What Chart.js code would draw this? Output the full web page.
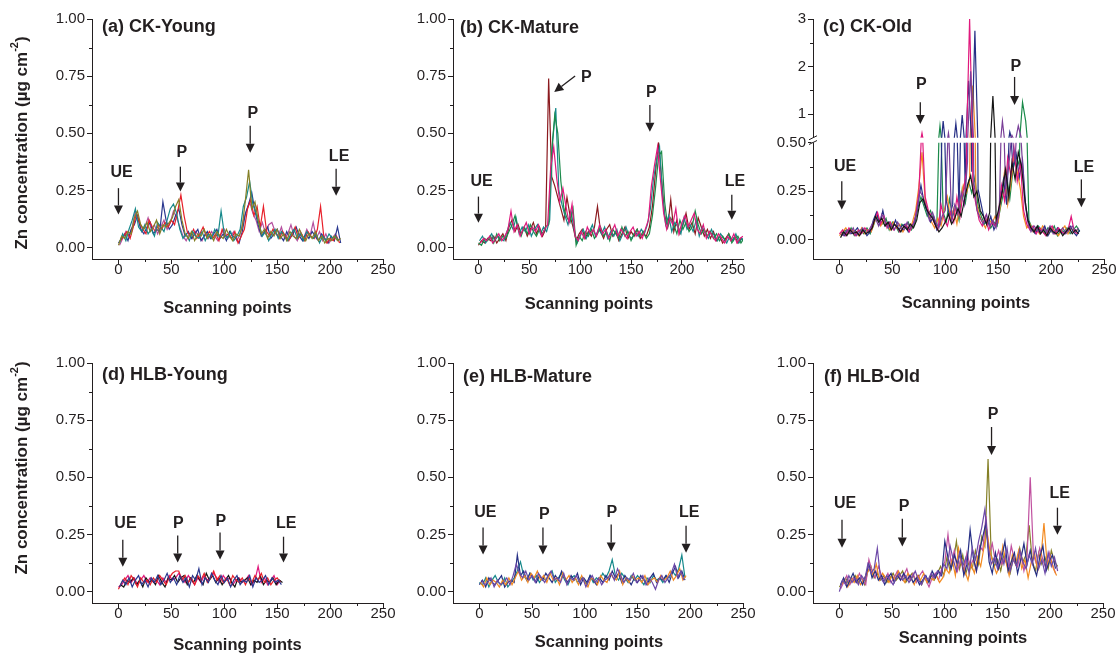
<!DOCTYPE html>
<html>
<head>
<meta charset="utf-8">
<script src="https://cdn.jsdelivr.net/npm/chart.js@4.4.1/dist/chart.umd.min.js"></script>
<style>
  body { margin: 0; background: #fff; width: 1119px; height: 653px; position: relative; overflow: hidden; }
  canvas { position: absolute; }
</style>
</head>
<body>
<canvas id="js--chart--a" width="400" height="320" style="left:0;top:0"></canvas>
<canvas id="js--chart--b" width="380" height="320" style="left:380px;top:0"></canvas>
<canvas id="js--chart--c" width="359" height="320" style="left:760px;top:0"></canvas>
<canvas id="js--chart--d" width="400" height="333" style="left:0;top:320px"></canvas>
<canvas id="js--chart--e" width="380" height="333" style="left:380px;top:320px"></canvas>
<canvas id="js--chart--f" width="359" height="333" style="left:760px;top:320px"></canvas>
<script>
// scanning points are sampled every 3rd point
const scanStep = 3;
const xTicks = [0, 50, 100, 150, 200, 250];
const yTicks = [0, 0.25, 0.5, 0.75, 1];
const yTicksLowOld = [0, 0.25, 0.5];
const yTicksHighOld = [1, 2, 3];
const xTitle = "Scanning points";

//(a) CK-Young
const ckYoungOlive = [0.01,0.05,0.04,0.07,0.06,0.13,0.16,0.10,0.08,0.11,
    0.07,0.09,0.12,0.06,0.10,0.09,0.11,0.13,0.18,0.21,
    0.12,0.06,0.04,0.07,0.03,0.06,0.05,0.08,0.04,0.06,
    0.03,0.07,0.05,0.04,0.08,0.05,0.03,0.06,0.05,0.09,
    0.21,0.34,0.17,0.20,0.12,0.06,0.08,0.04,0.07,0.05,
    0.08,0.04,0.06,0.03,0.07,0.05,0.04,0.08,0.05,0.03,
    0.06,0.04,0.07,0.03,0.05,0.02,0.04,0.03,0.05,0.03,0.04];
const ckYoungTeal = [0.02,0.06,0.03,0.08,0.12,0.17,0.09,0.07,0.10,0.06,
    0.08,0.05,0.11,0.09,0.07,0.12,0.17,0.19,0.15,0.08,
    0.04,0.06,0.03,0.07,0.05,0.04,0.07,0.03,0.06,0.04,
    0.08,0.05,0.16,0.06,0.04,0.07,0.03,0.05,0.08,0.18,
    0.22,0.29,0.19,0.15,0.10,0.05,0.07,0.03,0.06,0.08,
    0.04,0.07,0.05,0.03,0.06,0.08,0.04,0.06,0.03,0.07,
    0.05,0.04,0.06,0.02,0.05,0.03,0.06,0.04,0.05,0.03];
const ckYoungRed = [0.03,0.05,0.07,0.04,0.09,0.15,0.11,0.08,0.06,0.12,
    0.09,0.07,0.10,0.08,0.11,0.09,0.12,0.10,0.16,0.23,
    0.14,0.07,0.05,0.08,0.04,0.06,0.09,0.05,0.07,0.04,
    0.06,0.03,0.08,0.05,0.06,0.04,0.07,0.02,0.05,0.08,
    0.17,0.21,0.14,0.18,0.09,0.18,0.07,0.05,0.08,0.06,
    0.04,0.07,0.05,0.03,0.06,0.09,0.04,0.06,0.03,0.07,
    0.05,0.04,0.08,0.18,0.05,0.02,0.04,0.03,0.05,0.02];
const ckYoungBlue = [0.02,0.04,0.06,0.03,0.08,0.10,0.14,0.08,0.06,0.09,
    0.11,0.06,0.08,0.07,0.20,0.12,0.08,0.10,0.14,0.17,
    0.10,0.05,0.07,0.04,0.06,0.08,0.03,0.05,0.07,0.04,
    0.06,0.08,0.04,0.06,0.03,0.07,0.05,0.04,0.02,0.07,
    0.15,0.19,0.24,0.16,0.10,0.05,0.07,0.09,0.04,0.06,
    0.08,0.05,0.03,0.07,0.04,0.06,0.09,0.05,0.03,0.06,
    0.04,0.07,0.05,0.03,0.06,0.04,0.02,0.05,0.03,0.09,0.02];
const ckYoungMagenta = [0.01,0.04,0.07,0.05,0.09,0.16,0.12,0.07,0.09,0.13,
    0.08,0.10,0.06,0.09,0.12,0.08,0.11,0.16,0.13,0.09,
    0.05,0.03,0.06,0.04,0.07,0.05,0.03,0.06,0.04,0.07,
    0.05,0.03,0.06,0.08,0.04,0.05,0.07,0.03,0.06,0.12,
    0.16,0.20,0.15,0.12,0.07,0.11,0.06,0.10,0.11,0.07,
    0.05,0.09,0.04,0.06,0.10,0.05,0.03,0.07,0.04,0.08,
    0.05,0.11,0.04,0.07,0.03,0.06,0.02,0.04,0.06,0.03];

//(b) CK-Mature
const ckMaturePink = [0.02,0.04,0.03,0.05,0.02,0.04,0.06,0.03,0.05,0.08,
    0.16,0.07,0.10,0.05,0.08,0.11,0.06,0.09,0.07,0.10,
    0.05,0.08,0.10,0.35,0.44,0.30,0.20,0.26,0.18,0.11,
    0.19,0.05,0.03,0.07,0.04,0.09,0.06,0.08,0.05,0.10,
    0.06,0.08,0.04,0.07,0.10,0.05,0.08,0.06,0.04,0.07,
    0.09,0.05,0.07,0.04,0.08,0.12,0.27,0.36,0.44,0.29,
    0.15,0.08,0.13,0.10,0.17,0.06,0.11,0.14,0.09,0.12,
    0.15,0.08,0.06,0.10,0.04,0.07,0.05,0.03,0.06,0.04,
    0.02,0.05,0.03,0.06,0.02,0.04,0.05,0.03];
const ckMatureGreen = [0.02,0.01,0.04,0.03,0.05,0.02,0.06,0.03,0.05,0.04,
    0.07,0.10,0.14,0.08,0.05,0.09,0.06,0.10,0.07,0.05,
    0.08,0.06,0.09,0.10,0.42,0.58,0.50,0.29,0.17,0.13,
    0.11,0.17,0.01,0.05,0.03,0.07,0.05,0.08,0.04,0.06,
    0.09,0.05,0.07,0.03,0.08,0.06,0.04,0.09,0.05,0.07,
    0.03,0.06,0.08,0.05,0.07,0.04,0.06,0.14,0.26,0.40,
    0.42,0.20,0.09,0.13,0.10,0.06,0.12,0.08,0.11,0.07,
    0.09,0.16,0.10,0.06,0.08,0.05,0.07,0.04,0.06,0.03,
    0.05,0.03,0.06,0.02,0.04,0.05,0.02,0.04,0.03];
const ckMatureTeal = [0.03,0.05,0.02,0.04,0.06,0.03,0.05,0.04,0.03,0.07,
    0.11,0.08,0.13,0.06,0.09,0.07,0.10,0.05,0.08,0.10,
    0.06,0.09,0.07,0.12,0.47,0.61,0.25,0.19,0.14,0.10,
    0.16,0.08,0.02,0.05,0.08,0.04,0.07,0.10,0.05,0.08,
    0.06,0.09,0.04,0.07,0.05,0.08,0.03,0.06,0.09,0.05,
    0.04,0.07,0.05,0.08,0.06,0.10,0.17,0.30,0.38,0.44,
    0.22,0.10,0.14,0.07,0.11,0.09,0.06,0.13,0.08,0.10,
    0.07,0.12,0.05,0.09,0.06,0.04,0.08,0.05,0.03,0.06,
    0.04,0.02,0.05,0.03,0.06,0.02,0.04,0.03,0.04];
const ckMatureMaroon = [0.01,0.03,0.02,0.04,0.03,0.05,0.02,0.04,0.06,0.03,
    0.09,0.12,0.07,0.10,0.06,0.09,0.05,0.08,0.11,0.06,
    0.09,0.05,0.08,0.74,0.31,0.27,0.22,0.17,0.12,0.22,
    0.14,0.09,0.03,0.06,0.08,0.04,0.07,0.05,0.09,0.18,
    0.07,0.04,0.08,0.10,0.05,0.07,0.03,0.06,0.09,0.04,
    0.07,0.05,0.08,0.04,0.06,0.05,0.09,0.18,0.33,0.46,
    0.30,0.14,0.09,0.21,0.07,0.12,0.06,0.10,0.15,0.08,
    0.11,0.06,0.13,0.09,0.05,0.08,0.04,0.07,0.03,0.05,
    0.02,0.04,0.06,0.03,0.05,0.02,0.04,0.03,0.05];

//(c) CK-Old
const ckOldBlack = [0.01,0.04,0.02,0.05,0.03,0.04,0.02,0.05,0.03,0.04,
    0.06,0.12,0.09,0.11,0.07,0.09,0.05,0.08,0.06,0.04,
    0.07,0.05,0.08,0.06,0.10,0.19,0.21,0.16,0.13,0.11,
    0.07,0.04,0.06,0.09,0.13,0.08,0.11,0.16,0.12,0.20,
    0.28,0.33,0.22,0.25,0.15,0.12,0.08,0.14,1.38,0.10,
    0.17,0.25,0.36,0.22,0.40,0.31,0.45,0.38,0.22,0.10,
    0.06,0.04,0.07,0.03,0.05,0.02,0.06,0.04,0.03,0.05,
    0.02,0.04,0.06,0.03,0.05,0.03];
const ckOldPurple = [0.03,0.02,0.05,0.03,0.06,0.02,0.04,0.06,0.03,0.05,
    0.08,0.11,0.07,0.13,0.10,0.06,0.08,0.05,0.09,0.06,
    0.05,0.09,0.06,0.08,0.14,0.25,0.22,0.17,0.10,0.14,
    0.09,0.06,0.12,0.15,0.60,0.10,0.18,0.13,0.24,0.18,
    0.40,1.90,0.30,0.15,0.11,0.08,0.13,0.07,0.10,0.06,
    0.14,0.85,0.26,0.38,0.55,0.40,0.75,0.48,0.20,0.09,
    0.04,0.07,0.05,0.03,0.06,0.04,0.07,0.03,0.05,0.04,
    0.06,0.03,0.05,0.07,0.04,0.06];
const ckOldPink = [0.03,0.05,0.02,0.06,0.04,0.02,0.05,0.03,0.06,0.04,
    0.05,0.10,0.14,0.08,0.12,0.06,0.09,0.05,0.07,0.04,
    0.06,0.08,0.04,0.07,0.12,0.24,0.60,0.22,0.15,0.12,
    0.08,0.05,0.18,0.10,0.07,0.14,0.09,0.22,0.12,0.25,
    0.35,3.00,0.28,0.18,0.10,0.07,0.12,0.05,0.09,0.07,
    0.12,0.28,0.20,0.42,0.33,0.47,0.30,0.40,0.15,0.08,
    0.05,0.07,0.03,0.06,0.04,0.02,0.05,0.07,0.03,0.06,
    0.04,0.03,0.05,0.12,0.04,0.03];
const ckOldNavy = [0.04,0.02,0.05,0.03,0.04,0.06,0.03,0.05,0.02,0.04,
    0.10,0.14,0.08,0.15,0.07,0.09,0.06,0.10,0.05,0.07,
    0.08,0.04,0.07,0.09,0.18,0.28,0.19,0.14,0.09,0.12,
    0.05,0.08,0.85,0.20,0.12,0.18,0.80,0.15,0.98,0.22,
    1.70,0.35,2.75,0.26,0.18,0.10,0.07,0.12,0.05,0.09,
    0.20,0.31,0.18,0.62,0.37,0.44,0.32,0.41,0.17,0.08,
    0.05,0.03,0.06,0.04,0.07,0.02,0.05,0.03,0.06,0.04,
    0.03,0.05,0.07,0.04,0.02,0.05];
const ckOldOrange = [0.02,0.04,0.06,0.03,0.05,0.04,0.02,0.06,0.03,0.05,
    0.04,0.09,0.13,0.07,0.10,0.08,0.05,0.09,0.06,0.08,
    0.04,0.07,0.05,0.09,0.15,0.27,0.45,0.20,0.13,0.09,
    0.06,0.11,0.07,0.15,0.22,0.10,0.16,0.08,0.19,0.28,
    0.24,0.30,1.60,0.20,0.13,0.09,0.06,0.11,0.08,0.12,
    0.09,0.22,0.35,0.18,0.29,0.44,0.35,0.26,0.12,0.06,
    0.08,0.04,0.06,0.03,0.07,0.05,0.03,0.06,0.04,0.02,
    0.05,0.07,0.03,0.06,0.04,0.05];
const ckOldGreen = [0.02,0.05,0.03,0.06,0.02,0.04,0.05,0.03,0.06,0.03,
    0.07,0.12,0.10,0.08,0.11,0.05,0.09,0.07,0.04,0.08,
    0.06,0.09,0.05,0.08,0.16,0.22,0.17,0.12,0.15,0.10,
    0.07,0.75,0.14,0.09,0.21,0.12,0.17,0.10,0.26,0.19,
    0.30,0.24,0.32,0.17,0.12,0.08,0.11,0.06,0.09,0.07,
    0.16,0.24,0.33,0.21,0.36,0.43,0.38,1.25,0.85,0.10,
    0.06,0.04,0.07,0.05,0.03,0.06,0.04,0.07,0.02,0.05,
    0.04,0.06,0.03,0.05,0.07,0.04];

//(d) HLB-Young
const hlbYoungBlue = [0.02,0.05,0.03,0.06,0.02,0.05,0.07,0.03,0.05,0.02,
    0.06,0.04,0.07,0.03,0.05,0.08,0.04,0.06,0.03,0.07,
    0.04,0.06,0.02,0.07,0.05,0.10,0.03,0.06,0.04,0.08,
    0.05,0.03,0.07,0.04,0.06,0.02,0.05,0.07,0.03,0.05,
    0.04,0.07,0.02,0.06,0.04,0.05,0.07,0.03,0.06,0.04,
    0.05,0.03];
const hlbYoungRed = [0.01,0.04,0.06,0.03,0.07,0.05,0.02,0.06,0.04,0.05,
    0.03,0.06,0.04,0.07,0.05,0.03,0.06,0.08,0.09,0.09,
    0.05,0.07,0.04,0.06,0.03,0.07,0.05,0.08,0.04,0.06,
    0.09,0.05,0.07,0.04,0.06,0.03,0.07,0.05,0.04,0.06,
    0.03,0.06,0.04,0.07,0.05,0.08,0.04,0.06,0.03,0.05,
    0.06,0.04];
const hlbYoungBlack = [0.03,0.02,0.05,0.04,0.06,0.03,0.05,0.02,0.06,0.04,
    0.05,0.03,0.07,0.04,0.02,0.06,0.05,0.07,0.04,0.06,
    0.07,0.03,0.06,0.04,0.07,0.05,0.03,0.08,0.05,0.07,
    0.04,0.06,0.03,0.05,0.07,0.04,0.02,0.06,0.04,0.05,
    0.06,0.03,0.05,0.04,0.07,0.03,0.05,0.04,0.06,0.03,
    0.05,0.04];
const hlbYoungPink = [0.02,0.03,0.05,0.07,0.04,0.06,0.03,0.05,0.07,0.04,
    0.06,0.04,0.05,0.03,0.06,0.04,0.07,0.05,0.06,0.08,
    0.06,0.04,0.07,0.05,0.03,0.06,0.04,0.07,0.05,0.06,
    0.08,0.06,0.04,0.07,0.05,0.06,0.03,0.05,0.06,0.04,
    0.05,0.07,0.03,0.05,0.11,0.04,0.06,0.03,0.05,0.07,
    0.03,0.05];

//(e) HLB-Mature
const hlbMaturePurple = [0.05,0.03,0.04,0.06,0.02,0.05,0.03,0.04,0.06,0.03,
    0.07,0.12,0.08,0.06,0.09,0.05,0.07,0.04,0.08,0.06,
    0.04,0.07,0.09,0.05,0.06,0.04,0.08,0.03,0.06,0.05,
    0.07,0.04,0.06,0.02,0.05,0.07,0.04,0.06,0.03,0.05,
    0.06,0.08,0.05,0.10,0.07,0.04,0.06,0.05,0.08,0.04,
    0.05,0.07,0.03,0.06,0.04,0.01,0.05,0.07,0.04,0.06,
    0.08,0.12,0.06,0.09,0.05];
const hlbMatureOrange = [0.04,0.02,0.06,0.03,0.05,0.04,0.02,0.05,0.03,0.06,
    0.03,0.06,0.09,0.05,0.07,0.04,0.08,0.06,0.09,0.05,
    0.07,0.04,0.08,0.05,0.06,0.03,0.08,0.05,0.07,0.04,
    0.06,0.03,0.07,0.04,0.02,0.06,0.05,0.03,0.07,0.05,
    0.04,0.08,0.06,0.05,0.09,0.03,0.06,0.04,0.07,0.05,
    0.06,0.04,0.07,0.03,0.05,0.06,0.04,0.07,0.05,0.06,
    0.09,0.05,0.07,0.10,0.05,0.07];
const hlbMatureNavy = [0.03,0.05,0.02,0.06,0.04,0.03,0.05,0.07,0.02,0.04,
    0.05,0.04,0.16,0.07,0.09,0.05,0.08,0.06,0.04,0.07,
    0.05,0.08,0.06,0.04,0.07,0.05,0.09,0.06,0.04,0.07,
    0.05,0.08,0.03,0.06,0.04,0.07,0.05,0.03,0.06,0.04,
    0.07,0.05,0.09,0.06,0.08,0.04,0.07,0.05,0.03,0.06,
    0.04,0.07,0.05,0.03,0.06,0.08,0.04,0.06,0.05,0.07,
    0.04,0.08,0.11,0.06,0.09,0.05];
const hlbMatureTeal = [0.04,0.03,0.06,0.02,0.05,0.07,0.04,0.03,0.06,0.02,
    0.04,0.06,0.09,0.13,0.07,0.05,0.08,0.05,0.07,0.04,
    0.06,0.05,0.07,0.09,0.04,0.06,0.08,0.05,0.03,0.06,
    0.07,0.04,0.06,0.05,0.03,0.07,0.04,0.06,0.05,0.08,
    0.06,0.09,0.14,0.07,0.05,0.08,0.06,0.04,0.07,0.05,
    0.07,0.05,0.03,0.06,0.04,0.07,0.05,0.06,0.04,0.07,
    0.06,0.09,0.07,0.10,0.16,0.06];

//(f) HLB-Old
const hlbOldPurple = [0.00,0.05,0.03,0.07,0.04,0.06,0.03,0.07,0.05,0.12,
    0.08,0.10,0.19,0.06,0.04,0.07,0.05,0.03,0.06,0.08,
    0.05,0.07,0.04,0.06,0.09,0.05,0.03,0.07,0.05,0.08,
    0.06,0.09,0.07,0.12,0.10,0.20,0.14,0.09,0.17,0.11,
    0.15,0.08,0.19,0.14,0.22,0.28,0.36,0.20,0.12,0.15,
    0.10,0.17,0.12,0.19,0.09,0.14,0.11,0.18,0.13,0.10,
    0.16,0.12,0.19,0.10,0.14,0.08,0.17,0.11,0.15,0.09];
const hlbOldNavy = [0.03,0.06,0.02,0.05,0.08,0.04,0.06,0.03,0.07,0.12,
    0.06,0.09,0.05,0.07,0.03,0.06,0.08,0.04,0.07,0.05,
    0.08,0.05,0.07,0.04,0.06,0.03,0.05,0.07,0.04,0.09,
    0.06,0.09,0.07,0.22,0.15,0.10,0.16,0.12,0.18,0.07,
    0.12,0.27,0.15,0.09,0.18,0.24,0.30,0.13,0.08,0.17,
    0.10,0.15,0.22,0.09,0.13,0.17,0.08,0.14,0.21,0.12,
    0.18,0.11,0.07,0.15,0.20,0.09,0.13,0.16,0.10];
const hlbOldOrange = [0.03,0.05,0.02,0.06,0.04,0.07,0.03,0.05,0.08,0.10,
    0.07,0.12,0.05,0.08,0.06,0.04,0.07,0.05,0.09,0.06,
    0.04,0.08,0.06,0.03,0.07,0.05,0.08,0.04,0.06,0.05,
    0.07,0.04,0.06,0.10,0.08,0.14,0.07,0.19,0.12,0.09,
    0.05,0.12,0.08,0.15,0.11,0.19,0.26,0.17,0.12,0.08,
    0.11,0.20,0.13,0.07,0.16,0.12,0.18,0.10,0.14,0.06,
    0.13,0.17,0.09,0.14,0.30,0.12,0.15,0.10,0.07];
const hlbOldPink = [0.01,0.04,0.07,0.03,0.06,0.04,0.08,0.05,0.03,0.14,
    0.09,0.06,0.11,0.07,0.05,0.08,0.04,0.06,0.09,0.05,
    0.07,0.10,0.05,0.08,0.04,0.07,0.09,0.05,0.02,0.06,
    0.08,0.05,0.10,0.13,0.25,0.12,0.18,0.09,0.14,0.08,
    0.17,0.11,0.14,0.09,0.20,0.18,0.33,0.16,0.21,0.13,
    0.18,0.12,0.15,0.10,0.20,0.14,0.11,0.17,0.09,0.15,
    0.50,0.16,0.12,0.19,0.14,0.10,0.17,0.12,0.08];
const hlbOldOlive = [0.02,0.04,0.06,0.03,0.05,0.07,0.04,0.06,0.03,0.09,
    0.11,0.06,0.08,0.05,0.07,0.04,0.06,0.08,0.05,0.07,
    0.09,0.04,0.06,0.08,0.05,0.07,0.03,0.06,0.04,0.07,
    0.05,0.08,0.11,0.07,0.15,0.09,0.13,0.22,0.10,0.16,
    0.08,0.13,0.10,0.18,0.12,0.24,0.20,0.58,0.16,0.11,
    0.14,0.09,0.16,0.12,0.08,0.15,0.11,0.19,0.13,0.16,
    0.29,0.13,0.09,0.17,0.12,0.15,0.10,0.18,0.13,0.11];

const FONT = '"Liberation Sans", Arial, Helvetica, sans-serif';
const INK = '#231f20';

// annotation marks: text position and arrow from (x1,y1) to tip (x2,y2), in data units
const panels = [
    {
        id: "js--chart--a", title: "(a) CK-Young", xMax: 250,
        yW: 92, padTop: 19, padRight: 17, xH: 61,
        titleDx: 10, titleDy: 8.5, xTitleDx: -10, xTitleDy: 49, yTitleY: 143,
        series: [
            { values: ckYoungOlive, start: 0, color: '#858027' },
            { values: ckYoungTeal, start: 1, color: '#16898b' },
            { values: ckYoungRed, start: 2, color: '#e8202a' },
            { values: ckYoungBlue, start: 0, color: '#2b3990' },
            { values: ckYoungMagenta, start: 1, color: '#b5509f' }
        ],
        notes: [
            { t: 'UE', tx: 3, ty: 0.33, x1: 0, y1: 0.26, x2: 0, y2: 0.145 },
            { t: 'P', tx: 60, ty: 0.415, x1: 58.5, y1: 0.354, x2: 58.5, y2: 0.245 },
            { t: 'P', tx: 127, ty: 0.585, x1: 124.5, y1: 0.533, x2: 124.5, y2: 0.415 },
            { t: 'LE', tx: 208.5, ty: 0.40, x1: 205.7, y1: 0.345, x2: 205.7, y2: 0.227 }
        ]
    },
    {
        id: "js--chart--b", title: "(b) CK-Mature", xMax: 260,
        yW: 73, padTop: 19, padRight: 17, xH: 61,
        titleDx: 7, titleDy: 9, xTitleDx: -9, xTitleDy: 45,
        series: [
            { values: ckMaturePink, start: 2, color: '#e0197d' },
            { values: ckMatureGreen, start: 0, color: '#1b8a4a' },
            { values: ckMatureTeal, start: 1, color: '#16898b' },
            { values: ckMatureMaroon, start: 0, color: '#8b1a1f' }
        ],
        notes: [
            { t: 'UE', tx: 3, ty: 0.29, x1: 0, y1: 0.223, x2: 0, y2: 0.109 },
            { t: 'P', tx: 106, ty: 0.742, x1: 95, y1: 0.751, x2: 74.5, y2: 0.681 },
            { t: 'P', tx: 170, ty: 0.677, x1: 168.5, y1: 0.624, x2: 168.5, y2: 0.507 },
            { t: 'LE', tx: 252, ty: 0.29, x1: 249, y1: 0.231, x2: 249, y2: 0.122 }
        ]
    },
    {
        id: "js--chart--c", title: "(c) CK-Old", xMax: 250,
        yW: 53, padTop: 19, padRight: 15, xH: 61,
        titleDx: 10, titleDy: 8, xTitleDx: 7.5, xTitleDy: 44,
        breakAt: 0.5,
        series: [
            { values: ckOldBlack, start: 1, color: '#151515' },
            { values: ckOldPurple, start: 1, color: '#7a3f98' },
            { values: ckOldPink, start: 0, color: '#e0197d' },
            { values: ckOldNavy, start: 2, color: '#262f85' },
            { values: ckOldOrange, start: 0, color: '#f38b22' },
            { values: ckOldGreen, start: 2, color: '#1b8a4a' }
        ],
        notes: [
            { t: 'UE', tx: 5.4, ty: 0.378, x1: 2.2, y1: 0.30, x2: 2.2, y2: 0.155 },
            { t: 'P', tx: 77.3, ty: 1.61, x1: 76.4, y1: 1.25, x2: 76.4, y2: 0.79, axis: 'y2' },
            { t: 'P', tx: 166.6, ty: 2.0, x1: 165.5, y1: 1.78, x2: 165.5, y2: 1.19, axis: 'y2' },
            { t: 'LE', tx: 231, ty: 0.373, x1: 228.6, y1: 0.31, x2: 228.6, y2: 0.166 }
        ]
    },
    {
        id: "js--chart--d", title: "(d) HLB-Young", xMax: 250,
        yW: 92, padTop: 43, padRight: 17, xH: 50,
        titleDx: 10, titleDy: 12.5, xTitleDx: 0, xTitleDy: 42, yTitleY: 148,
        series: [
            { values: hlbYoungBlue, start: 1, color: '#2b3990' },
            { values: hlbYoungRed, start: 0, color: '#e8202a' },
            { values: hlbYoungBlack, start: 2, color: '#151515' },
            { values: hlbYoungPink, start: 0, color: '#e0197d' }
        ],
        notes: [
            { t: 'UE', tx: 6.6, ty: 0.297, x1: 4.1, y1: 0.227, x2: 4.1, y2: 0.109 },
            { t: 'P', tx: 56.6, ty: 0.297, x1: 56, y1: 0.245, x2: 56, y2: 0.127 },
            { t: 'P', tx: 96.7, ty: 0.308, x1: 96, y1: 0.258, x2: 96, y2: 0.14 },
            { t: 'LE', tx: 158.5, ty: 0.297, x1: 156, y1: 0.24, x2: 156, y2: 0.127 }
        ]
    },
    {
        id: "js--chart--e", title: "(e) HLB-Mature", xMax: 250,
        yW: 73, padTop: 43, padRight: 17, xH: 50,
        titleDx: 10, titleDy: 14, xTitleDx: 1, xTitleDy: 39,
        series: [
            { values: hlbMaturePurple, start: 2, color: '#6d49a8' },
            { values: hlbMatureOrange, start: 1, color: '#f38b22' },
            { values: hlbMatureNavy, start: 0, color: '#262f85' },
            { values: hlbMatureTeal, start: 0, color: '#16898b' }
        ],
        notes: [
            { t: 'UE', tx: 5.7, ty: 0.345, x1: 3.5, y1: 0.28, x2: 3.5, y2: 0.162 },
            { t: 'P', tx: 61.6, ty: 0.336, x1: 60.3, y1: 0.28, x2: 60.3, y2: 0.162 },
            { t: 'P', tx: 125.6, ty: 0.345, x1: 125, y1: 0.293, x2: 125, y2: 0.175 },
            { t: 'LE', tx: 199, ty: 0.345, x1: 196, y1: 0.288, x2: 196, y2: 0.17 }
        ]
    },
    {
        id: "js--chart--f", title: "(f) HLB-Old", xMax: 250,
        yW: 53, padTop: 43, padRight: 16, xH: 50,
        titleDx: 11, titleDy: 14, xTitleDx: 5, xTitleDy: 35,
        series: [
            { values: hlbOldPurple, start: 0, color: '#6d49a8' },
            { values: hlbOldNavy, start: 1, color: '#262f85' },
            { values: hlbOldOrange, start: 2, color: '#f38b22' },
            { values: hlbOldPink, start: 1, color: '#c0509f' },
            { values: hlbOldOlive, start: 0, color: '#858027' }
        ],
        notes: [
            { t: 'UE', tx: 5.4, ty: 0.384, x1: 2.5, y1: 0.314, x2: 2.5, y2: 0.192 },
            { t: 'P', tx: 61.3, ty: 0.371, x1: 59.7, y1: 0.319, x2: 59.7, y2: 0.197 },
            { t: 'P', tx: 145.8, ty: 0.773, x1: 144.3, y1: 0.72, x2: 144.3, y2: 0.598 },
            { t: 'LE', tx: 209, ty: 0.428, x1: 206.8, y1: 0.367, x2: 206.8, y2: 0.249 }
        ]
    }
];

function midpoints(major) {
    const out = [];
    for (let i = 0; i < major.length - 1; i++) out.push((major[i] + major[i + 1]) / 2);
    return out;
}

function drawArrow(ctx, x1, y1, x2, y2) {
    const ang = Math.atan2(y2 - y1, x2 - x1), hl = 9, hw = 4.5;
    const bx = x2 - hl * Math.cos(ang), by = y2 - hl * Math.sin(ang);
    ctx.beginPath();
    ctx.moveTo(x1, y1);
    ctx.lineTo(bx, by);
    ctx.stroke();
    ctx.beginPath();
    ctx.moveTo(x2, y2);
    ctx.lineTo(bx + hw * Math.sin(ang), by - hw * Math.cos(ang));
    ctx.lineTo(bx - hw * Math.sin(ang), by + hw * Math.cos(ang));
    ctx.closePath();
    ctx.fill();
}

function drawYTitle(ctx, x, y) {
    const main = 'Zn concentration (\u00b5g cm', sup = '-2', end = ')';
    ctx.save();
    ctx.translate(x, y);
    ctx.rotate(-Math.PI / 2);
    ctx.fillStyle = INK;
    ctx.textBaseline = 'middle';
    ctx.textAlign = 'left';
    ctx.font = 'bold 17px ' + FONT;
    const w1 = ctx.measureText(main).width, w3 = ctx.measureText(end).width;
    ctx.font = 'bold 11px ' + FONT;
    const w2 = ctx.measureText(sup).width;
    let sx = -(w1 + w2 + w3) / 2;
    ctx.font = 'bold 17px ' + FONT;
    ctx.fillText(main, sx, 0);
    ctx.font = 'bold 11px ' + FONT;
    ctx.fillText(sup, sx + w1, -7);
    ctx.font = 'bold 17px ' + FONT;
    ctx.fillText(end, sx + w1 + w2, 0);
    ctx.restore();
}

function makeDecor(p) {
    return {
        id: 'decor',
        beforeDatasetDraw(chart, args) {
            const sc = args.meta.yScale, area = chart.chartArea;
            let bottom = sc.bottom;
            if (p.breakAt !== undefined && sc.id === 'y2') bottom = sc.getPixelForValue(p.breakAt);
            chart.ctx.save();
            chart.ctx.beginPath();
            chart.ctx.rect(area.left, sc.top, area.right - area.left, bottom - sc.top);
            chart.ctx.clip();
        },
        afterDatasetDraw(chart) {
            chart.ctx.restore();
        },
        afterDraw(chart) {
            const ctx = chart.ctx, area = chart.chartArea, xs = chart.scales.x;
            ctx.save();
            ctx.strokeStyle = INK;
            ctx.fillStyle = INK;
            ctx.lineWidth = 1;
            // minor ticks
            ctx.beginPath();
            midpoints(xTicks).forEach(v => {
                const px = Math.round(xs.getPixelForValue(v)) + 0.5;
                ctx.moveTo(px, xs.top);
                ctx.lineTo(px, xs.top + 3);
            });
            const yScales = p.breakAt !== undefined
                ? [[chart.scales.y, yTicksLowOld], [chart.scales.y2, yTicksHighOld]]
                : [[chart.scales.y, yTicks]];
            yScales.forEach(([sc, major]) => {
                midpoints(major).forEach(v => {
                    const py = Math.round(sc.getPixelForValue(v)) + 0.5;
                    ctx.moveTo(sc.right, py);
                    ctx.lineTo(sc.right - 3, py);
                });
            });
            ctx.stroke();

            // axis break
            if (p.breakAt !== undefined) {
                const lo = chart.scales.y, hi = chart.scales.y2;
                const yTop = hi.getPixelForValue(p.breakAt), yBot = lo.top;
                const ax = lo.right;
                ctx.fillStyle = '#fff';
                ctx.fillRect(ax - 2, yTop, 4, yBot - yTop);
                ctx.beginPath();
                ctx.moveTo(ax - 4, yBot + 2);
                ctx.lineTo(ax + 4, yBot - 2);
                ctx.moveTo(ax - 4, yTop + 2);
                ctx.lineTo(ax + 4, yTop - 2);
                ctx.stroke();
                ctx.fillStyle = INK;
            }

            // panel label
            ctx.textBaseline = 'middle';
            ctx.textAlign = 'left';
            ctx.font = 'bold 18px ' + FONT;
            ctx.fillText(p.title, area.left + p.titleDx, area.top + p.titleDy);

            // x title
            ctx.textAlign = 'center';
            ctx.font = 'bold 16.5px ' + FONT;
            ctx.fillText(xTitle, (area.left + area.right) / 2 + p.xTitleDx, area.bottom + p.xTitleDy);

            // annotations
            ctx.font = 'bold 16px ' + FONT;
            ctx.lineWidth = 1.3;
            p.notes.forEach(n => {
                const ys = chart.scales[n.axis || 'y'];
                ctx.fillText(n.t, xs.getPixelForValue(n.tx), ys.getPixelForValue(n.ty));
                drawArrow(ctx, xs.getPixelForValue(n.x1), ys.getPixelForValue(n.y1),
                    xs.getPixelForValue(n.x2), ys.getPixelForValue(n.y2));
            });
            ctx.restore();

            if (p.yTitleY) drawYTitle(ctx, 22, p.yTitleY);
        }
    };
}

function axisStyle() {
    return {
        grid: { drawOnChartArea: false, drawTicks: true, tickLength: 5, color: INK, lineWidth: 1 },
        border: { display: true, color: INK, width: 1 }
    };
}

function yAxis(p, opts, major, fmt) {
    return Object.assign({
        type: 'linear',
        position: 'left',
        afterBuildTicks: s => { s.ticks = major.map(v => ({ value: v })); },
        afterFit: s => { s.width = p.yW; },
        ticks: { font: { size: 15, family: FONT }, color: INK, padding: 2, autoSkip: false, callback: fmt }
    }, axisStyle(), opts);
}

function makeChart(p) {
    const axes = p.breakAt !== undefined ? ['y', 'y2'] : ['y'];
    const datasets = [];
    p.series.forEach(s => {
        const pts = s.values.map((v, i) => ({ x: s.start + i * scanStep, y: v }));
        axes.forEach(ax => {
            datasets.push({
                data: pts, yAxisID: ax, borderColor: s.color, borderWidth: 1.2,
                pointRadius: 0, tension: 0, fill: false
            });
        });
    });

    const scales = {
        x: Object.assign({
            type: 'linear',
            min: -25,
            max: p.xMax,
            afterBuildTicks: s => { s.ticks = xTicks.map(v => ({ value: v })); },
            afterFit: s => { s.height = p.xH; },
            ticks: { font: { size: 15, family: FONT }, color: INK, padding: -3, autoSkip: false, maxRotation: 0, callback: v => String(v) }
        }, axisStyle())
    };
    if (p.breakAt !== undefined) {
        scales.y = yAxis(p, { min: -0.1, max: 0.5, stack: 'old', stackWeight: 116.5 }, yTicksLowOld, v => v.toFixed(2));
        scales.y2 = yAxis(p, { min: 0.4, max: 3, stack: 'old', stackWeight: 123.5 }, yTicksHighOld, v => String(v));
    } else {
        scales.y = yAxis(p, { min: -0.05, max: 1 }, yTicks, v => v.toFixed(2));
    }

    return new Chart(document.getElementById(p.id), {
        type: 'line',
        data: { datasets: datasets },
        options: {
            responsive: false,
            animation: false,
            devicePixelRatio: 1,
            parsing: false,
            normalized: true,
            layout: { autoPadding: false, padding: { top: p.padTop, right: p.padRight, left: 0, bottom: 0 } },
            plugins: { legend: { display: false }, tooltip: { enabled: false } },
            events: [],
            scales: scales
        },
        plugins: [makeDecor(p)]
    });
}

panels.forEach(makeChart);
</script>
</body>
</html>
